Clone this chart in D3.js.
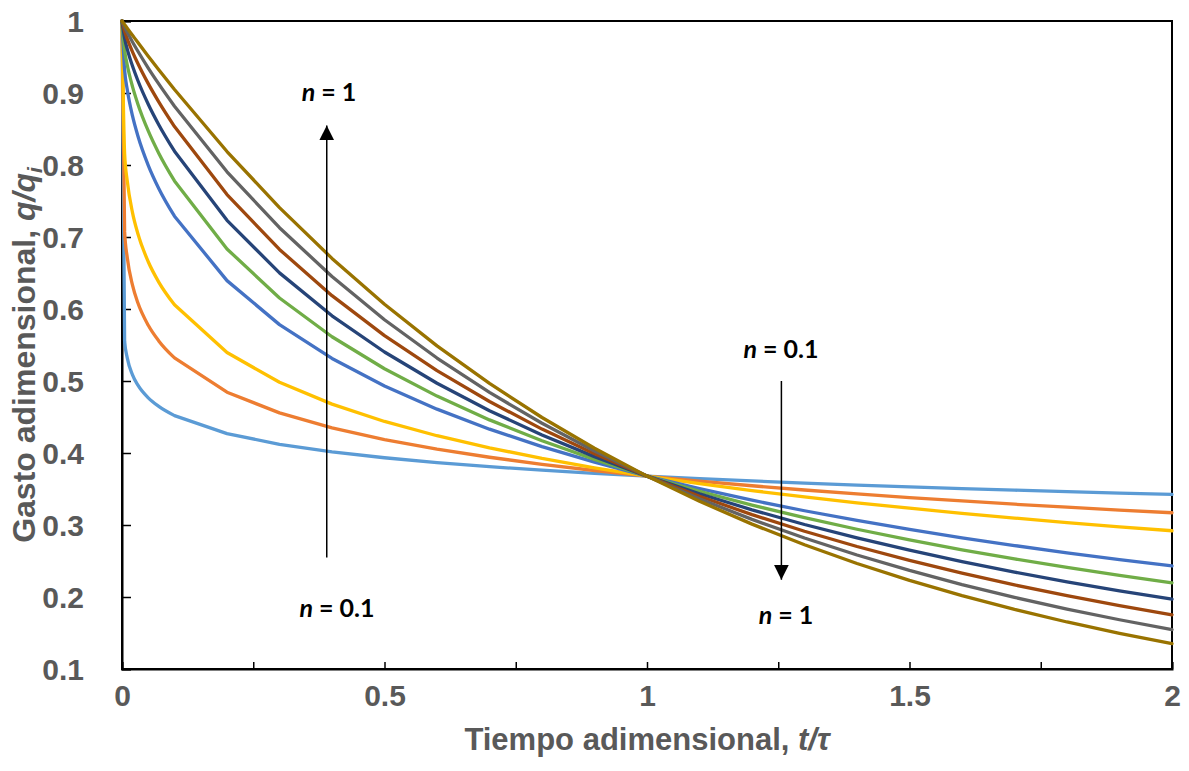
<!DOCTYPE html>
<html>
<head>
<meta charset="utf-8">
<script src="https://cdn.jsdelivr.net/npm/d3@7"></script>
<style>
  html, body { margin: 0; padding: 0; background: #fff; }
  svg { display: block; }
</style>
</head>
<body>
<svg id="chart" width="1189" height="771"></svg>
<script>
// ---- data ----
const tValues = [0, 0.005, 0.01, 0.02, 0.03, 0.05, 0.07, 0.1, 0.2, 0.3, 0.4, 0.5, 0.6, 0.7, 0.8, 0.9, 1.0,
                 1.1, 1.2, 1.3, 1.4, 1.5, 1.6, 1.7, 1.8, 1.9, 2.0];
const exponents = [0.1, 0.2, 0.3, 0.5, 0.6, 0.7, 0.8, 0.9, 1.0];
const seriesN01 = [1, 0.5550, 0.5321, 0.5085, 0.4945, 0.4766, 0.4647, 0.4519, 0.4269, 0.4120, 0.4016, 0.3934, 0.3867, 0.3810, 0.3761, 0.3718, 0.3679, 0.3644, 0.3612, 0.3582, 0.3555, 0.3530, 0.3506, 0.3484, 0.3463, 0.3443, 0.3424];
const seriesN02 = [1, 0.7071, 0.6716, 0.6330, 0.6090, 0.5774, 0.5557, 0.5321, 0.4844, 0.4557, 0.4349, 0.4187, 0.4054, 0.3941, 0.3843, 0.3757, 0.3679, 0.3609, 0.3545, 0.3486, 0.3431, 0.3381, 0.3334, 0.3289, 0.3247, 0.3208, 0.3170];
const seriesN03 = [1, 0.8155, 0.7779, 0.7339, 0.7052, 0.6656, 0.6374, 0.6058, 0.5395, 0.4982, 0.4679, 0.4438, 0.4240, 0.4072, 0.3925, 0.3795, 0.3679, 0.3574, 0.3478, 0.3390, 0.3308, 0.3233, 0.3162, 0.3096, 0.3034, 0.2975, 0.2920];
const seriesN05 = [1, 0.9317, 0.9048, 0.8681, 0.8410, 0.7996, 0.7675, 0.7289, 0.6394, 0.5783, 0.5313, 0.4931, 0.4609, 0.4331, 0.4089, 0.3873, 0.3679, 0.3504, 0.3344, 0.3198, 0.3063, 0.2938, 0.2822, 0.2715, 0.2614, 0.2520, 0.2431];
const seriesN06 = [1, 0.9592, 0.9389, 0.9088, 0.8852, 0.8473, 0.8164, 0.7779, 0.6834, 0.6153, 0.5615, 0.5170, 0.4790, 0.4460, 0.4170, 0.3912, 0.3679, 0.3469, 0.3277, 0.3102, 0.2941, 0.2793, 0.2656, 0.2529, 0.2410, 0.2300, 0.2197];
const seriesN07 = [1, 0.9758, 0.9610, 0.9374, 0.9177, 0.8844, 0.8560, 0.8191, 0.7231, 0.6502, 0.5906, 0.5403, 0.4969, 0.4588, 0.4251, 0.3950, 0.3679, 0.3434, 0.3211, 0.3007, 0.2821, 0.2650, 0.2492, 0.2346, 0.2211, 0.2086, 0.1970];
const seriesN08 = [1, 0.9857, 0.9752, 0.9572, 0.9413, 0.9130, 0.8877, 0.8534, 0.7589, 0.6827, 0.6185, 0.5631, 0.5145, 0.4715, 0.4332, 0.3989, 0.3679, 0.3399, 0.3144, 0.2913, 0.2701, 0.2508, 0.2331, 0.2168, 0.2019, 0.1881, 0.1753];
const seriesN09 = [1, 0.9915, 0.9843, 0.9709, 0.9583, 0.9347, 0.9127, 0.8817, 0.7906, 0.7129, 0.6451, 0.5851, 0.5319, 0.4841, 0.4413, 0.4027, 0.3679, 0.3364, 0.3078, 0.2819, 0.2583, 0.2369, 0.2173, 0.1995, 0.1832, 0.1684, 0.1547];
const seriesN10 = [1, 0.9950, 0.9900, 0.9802, 0.9704, 0.9512, 0.9324, 0.9048, 0.8187, 0.7408, 0.6703, 0.6065, 0.5488, 0.4966, 0.4493, 0.4066, 0.3679, 0.3329, 0.3012, 0.2725, 0.2466, 0.2231, 0.2019, 0.1827, 0.1653, 0.1496, 0.1353];
const allSeries = [seriesN01, seriesN02, seriesN03, seriesN05, seriesN06, seriesN07, seriesN08, seriesN09, seriesN10];
const seriesColors = ["#5B9BD5", "#ED7D31", "#FFC000", "#4472C4", "#70AD47", "#264478", "#9E480E", "#636363", "#997300"];
const xTickValues = [0, 0.25, 0.5, 0.75, 1, 1.25, 1.5, 1.75, 2];
const xTickLabels = [0, 0.5, 1, 1.5, 2];
const yTickValues = [0.1, 0.2, 0.3, 0.4, 0.5, 0.6, 0.7, 0.8, 0.9, 1];
// annotation arrows in data units
const arrowUp = {x: 0.39, from: 0.255, to: 0.855};
const arrowDown = {x: 1.256, from: 0.500, to: 0.224};

// ---- layout ----
const svg = d3.select("#chart");
const L = 122, R = 1172, T = 21, B = 669;
const x = d3.scaleLinear().domain([0, 2]).range([L, R]);
const y = d3.scaleLinear().domain([0.1, 1]).range([B, T]);

const tickFont = "'Liberation Sans', Arial, sans-serif";
const gray = "#595959";

// frame
svg.append("rect").attr("x", L).attr("y", T).attr("width", R - L).attr("height", B - T)
  .attr("fill", "none").attr("stroke", "#000").attr("stroke-width", 2);

// y axis ticks (inward)
const yAxis = d3.axisLeft(y).tickValues(yTickValues).tickSize(-9)
  .tickFormat(d => d === 1 ? "1" : d3.format(".1f")(d)).tickPadding(38);
const gy = svg.append("g").attr("transform", `translate(${L},0)`).call(yAxis);
gy.select(".domain").attr("stroke", "#000").attr("stroke-width", 2);
gy.selectAll(".tick line").attr("stroke", "#000").attr("stroke-width", 1.5);
gy.selectAll(".tick text").attr("font-family", tickFont).attr("font-weight", "bold")
  .attr("font-size", 30).attr("fill", gray).attr("dy", "0.36em");

// x axis ticks (inward)
const xAxis = d3.axisBottom(x).tickValues(xTickValues).tickSize(-7)
  .tickFormat(d => xTickLabels.includes(d) ? d3.format("~g")(d) : "").tickPadding(16);
const gx = svg.append("g").attr("transform", `translate(0,${B})`).call(xAxis);
gx.select(".domain").attr("stroke", "#000").attr("stroke-width", 2);
gx.selectAll(".tick line").attr("stroke", "#000").attr("stroke-width", 1.5);
gx.selectAll(".tick text").attr("font-family", tickFont).attr("font-weight", "bold")
  .attr("font-size", 30).attr("fill", gray).attr("dy", "0.71em");

// series lines: smooth over the dense early-time samples, straight segments afterwards
const pts = s => s.map((v, i) => [tValues[i], v]);
const early = d3.line().x(d => x(d[0])).y(d => y(d[1])).curve(d3.curveMonotoneX);
const late = d3.line().x(d => x(d[0])).y(d => y(d[1]));
allSeries.forEach((s, k) => {
  const p = pts(s);
  const d = early(p.filter(q => q[0] <= 0.1)) + late(p.filter(q => q[0] >= 0.1)).replace(/^M/, "L");
  svg.append("path").attr("d", d)
    .attr("fill", "none").attr("stroke", seriesColors[k]).attr("stroke-width", 3.3)
    .attr("stroke-linejoin", "round").attr("stroke-linecap", "round");
});

// axis titles
svg.append("text").attr("x", (L + R) / 2).attr("y", 750).attr("text-anchor", "middle")
  .attr("font-family", tickFont).attr("font-weight", "bold").attr("font-size", 31).attr("fill", gray)
  .call(t => {
    t.append("tspan").text("Tiempo adimensional, ");
    t.append("tspan").attr("font-style", "italic").text("t/τ");
  });

svg.append("text").attr("transform", `translate(35,355) rotate(-90)`).attr("text-anchor", "middle")
  .attr("font-family", tickFont).attr("font-weight", "bold").attr("font-size", 32).attr("fill", gray)
  .call(t => {
    t.append("tspan").text("Gasto adimensional, ");
    t.append("tspan").attr("font-style", "italic").text("q/q");
    t.append("tspan").attr("font-style", "italic").attr("font-size", 21).attr("dy", 7).text("i");
  });

// arrows
const defs = svg.append("defs");
defs.append("marker").attr("id", "ah").attr("viewBox", "0 0 10 10").attr("refX", 10).attr("refY", 5)
  .attr("markerWidth", 15).attr("markerHeight", 15).attr("markerUnits", "userSpaceOnUse")
  .attr("orient", "auto")
  .append("path").attr("d", "M0,0 L10,5 L0,10 Z").attr("fill", "#000");

[arrowUp, arrowDown].forEach(a => {
  svg.append("line").attr("x1", x(a.x)).attr("x2", x(a.x)).attr("y1", y(a.from)).attr("y2", y(a.to))
    .attr("stroke", "#000").attr("stroke-width", 1.5).attr("marker-end", "url(#ah)");
});

// annotation labels
const annFont = "Lato, 'Open Sans', sans-serif";
function nLabel(cx, baseline, val) {
  const t = svg.append("text").attr("x", cx).attr("y", baseline).attr("text-anchor", "middle")
    .attr("font-family", annFont).attr("font-weight", "bold").attr("font-size", 25).attr("fill", "#000")
    .attr("xml:space", "preserve");
  t.append("tspan").attr("font-style", "italic").text("n");
  t.append("tspan").text(" = " + val);
}
nLabel(329, 101, "1");
nLabel(337, 617, "0.1");
nLabel(781, 358, "0.1");
nLabel(786, 624, "1");
</script>
</body>
</html>
